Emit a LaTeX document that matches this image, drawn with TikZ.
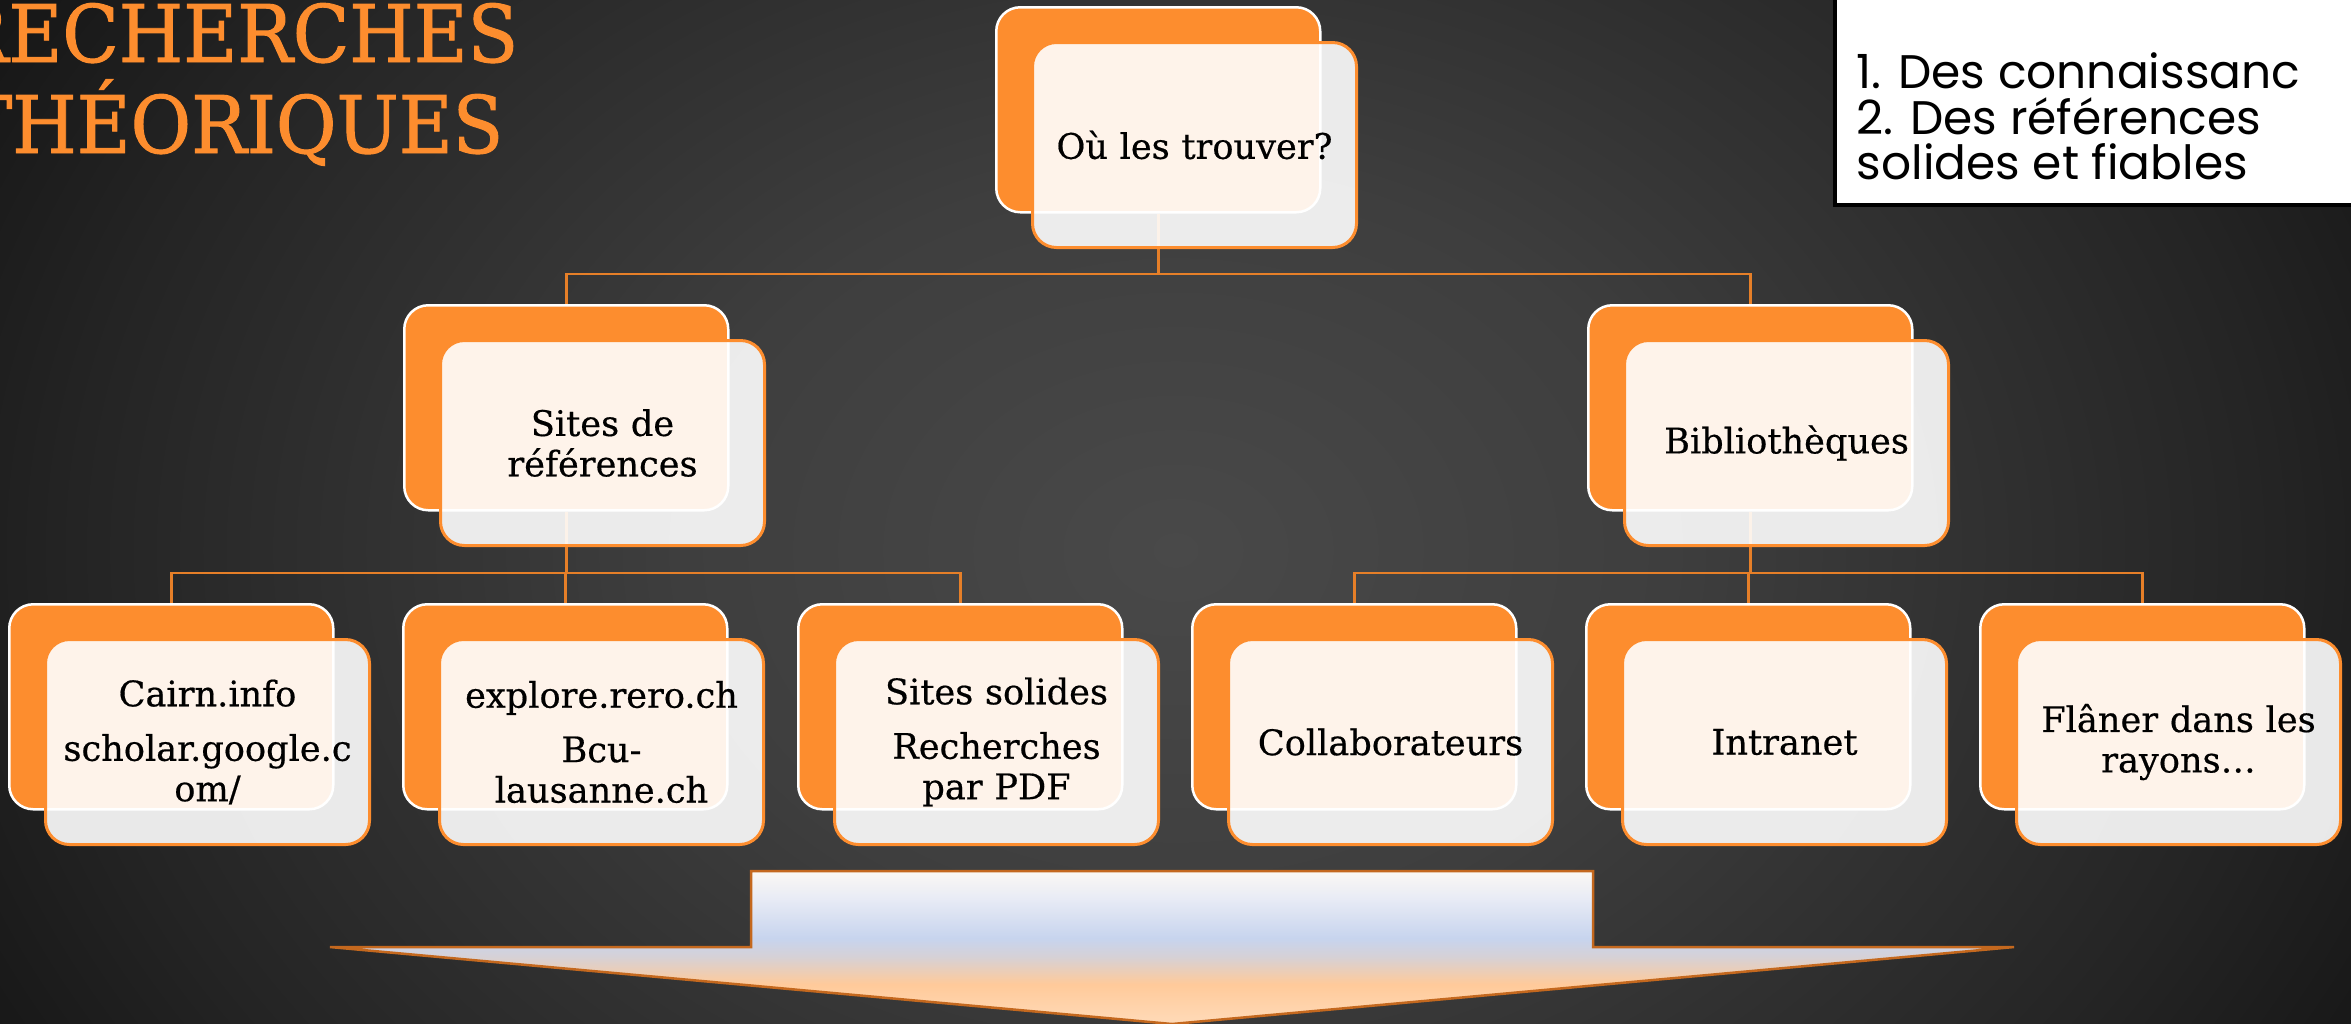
\documentclass[tikz,border=0pt]{standalone}
\usepackage{fontspec}
\setmainfont{DejaVu Serif}
\newfontfamily\cardfont[FakeBold=0.5]{DejaVu Serif}
\newfontfamily\notefont{Poppins}
\newfontfamily\titlefont[FakeStretch=0.93,FakeBold=1.2]{DejaVu Serif}
\usetikzlibrary{positioning}

\definecolor{tangerine}{RGB}{253,141,46}
\definecolor{wireorange}{RGB}{230,127,40}
\definecolor{bgcentre}{RGB}{73,73,73}
\definecolor{bgmid}{RGB}{62,62,62}
\definecolor{bgedge}{RGB}{36,36,36}
\definecolor{bgcorner}{RGB}{22,22,22}
\definecolor{snow}{RGB}{251,248,243}
\definecolor{mist}{RGB}{232,235,245}
\definecolor{paleblue}{RGB}{199,212,238}
\definecolor{greyblue}{RGB}{214,209,214}
\definecolor{peach}{RGB}{255,202,154}
\definecolor{peachlow}{RGB}{255,216,180}
\definecolor{rust}{RGB}{196,104,30}

\pgfdeclareradialshading{backdrop}{\pgfpoint{0bp}{0bp}}{color(0bp)=(bgcentre); color(9bp)=(bgmid); color(20bp)=(bgedge); color(25bp)=(bgcorner); color(50bp)=(bgcorner)}
\pgfdeclareverticalshading{arrowfill}{100bp}{color(0bp)=(peachlow); color(27bp)=(peachlow); color(38bp)=(peach); color(47bp)=(greyblue); color(53bp)=(paleblue); color(66bp)=(mist); color(75bp)=(snow); color(100bp)=(snow)}

\begin{document}
\begin{tikzpicture}[x=0.1mm, y=-0.1mm,
        backbox/.style={draw=white, line width=0.25mm, fill=tangerine, rounded corners=2.4mm,
            minimum width=32.4mm, minimum height=20.5mm, inner sep=0pt, anchor=north west},
        frontbox/.style={draw=tangerine, line width=0.3mm, fill=white, fill opacity=0.9, text opacity=1,
            rounded corners=2.4mm, minimum width=32.4mm, minimum height=20.5mm, inner sep=0.5mm,
            text width=31mm, align=center, anchor=north west, font=\cardfont\fontsize{10}{11.5}\selectfont},
        link/.style={draw=wireorange, line width=0.25mm},
        titletext/.style={text=tangerine, inner sep=0pt, anchor=base east, font=\titlefont\fontsize{22.6}{26}\selectfont}]
        \useasboundingbox (0,0) rectangle (2351,1023);
        \clip (0,0) rectangle (2351,1023);
        \shade[shading=backdrop] (-200,-500) rectangle (2551,1600);

        % title and note
        \node[titletext] (title1) at (519,62) {RECHERCHES};
        \node[titletext] (title2) at (504,153) {THÉORIQUES};
        \node[draw=black, line width=0.4mm, fill=white, minimum width=60mm, minimum height=25mm, anchor=south west] (goalsbox) at (1833,207) {};
        \node[inner sep=0pt, anchor=north west, align=left, font=\notefont\fontsize{13.4}{13}\selectfont] (goals) at (1856,52)
            {1. Des connaissanc\\2. Des références\\solides et fiables};

        % back cards
        \node[backbox] (whereB) at (995,6) {};
        \node[backbox] (sitesB) at (403,304) {};
        \node[backbox] (biblioB) at (1587,304) {};
        \node[backbox] (cairnB) at (8,603) {};
        \node[backbox] (reroB) at (402,603) {};
        \node[backbox] (solidB) at (797,603) {};
        \node[backbox] (collabB) at (1191,603) {};
        \node[backbox] (intraB) at (1585,603) {};
        \node[backbox] (flanerB) at (1979,603) {};

        % connectors
        \coordinate (bus1) at (0,274);
        \coordinate (bus2) at (0,573);
        \draw[link] (whereB.south) -- (whereB.south |- bus1) -| (sitesB.north);
        \draw[link] (whereB.south) -- (whereB.south |- bus1) -| (biblioB.north);
        \foreach \c in {cairnB,reroB,solidB}
            \draw[link] (sitesB.south) -- (sitesB.south |- bus2) -| (\c.north);
        \foreach \c in {collabB,intraB,flanerB}
            \draw[link] (biblioB.south) -- (biblioB.south |- bus2) -| (\c.north);

        % front cards
        \node[frontbox] (where) at ([xshift=3.6mm,yshift=-3.5mm]whereB.north west) {Où les trouver?};
        \node[frontbox] (sites) at ([xshift=3.6mm,yshift=-3.5mm]sitesB.north west) {Sites de\\références};
        \node[frontbox] (biblio) at ([xshift=3.6mm,yshift=-3.5mm]biblioB.north west) {Bibliothèques};
        \node[frontbox] (cairn) at ([xshift=3.6mm,yshift=-3.5mm]cairnB.north west) {Cairn.info\\[4pt]scholar.google.c\\om/};
        \node[frontbox] (rero) at ([xshift=3.6mm,yshift=-3.5mm]reroB.north west) {explore.rero.ch\\[4pt]Bcu-\\lausanne.ch};
        \node[frontbox] (solid) at ([xshift=3.6mm,yshift=-3.5mm]solidB.north west) {Sites solides\\[4pt]Recherches\\par PDF};
        \node[frontbox] (collab) at ([xshift=3.6mm,yshift=-3.5mm]collabB.north west) {Collaborateurs};
        \node[frontbox] (intra) at ([xshift=3.6mm,yshift=-3.5mm]intraB.north west) {Intranet};
        \node[frontbox] (flaner) at ([xshift=3.6mm,yshift=-3.5mm]flanerB.north west) {Flâner dans les\\rayons…};

        % big arrow
        \draw[draw=rust, line width=0.25mm, shading=arrowfill, shade] (751,871) -- (1593,871) -- (1593,947) -- (2014,947)
            -- (1172,1024) -- (330,947) -- (751,947) -- cycle;
    \end{tikzpicture}
\end{document}
